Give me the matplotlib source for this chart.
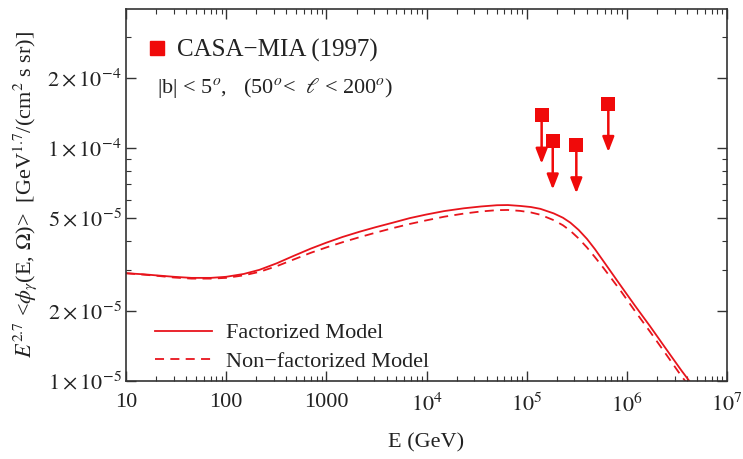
import numpy as np
import matplotlib
matplotlib.use('Agg')
import matplotlib.pyplot as plt
from matplotlib.ticker import LogLocator, FixedLocator, FixedFormatter, NullFormatter
from matplotlib.lines import Line2D

plt.rcParams['font.family'] = ['Liberation Serif', 'DejaVu Serif']
plt.rcParams['mathtext.fontset'] = 'stix'

red = "#e8141c"     # model curves
sq_red = "#f00a0a"  # CASA-MIA points

# gamma-ray flux, E^2.7 * phi  [1e-5 GeV^1.7 / (cm^2 s sr)]
energy = [10, 15, 20, 30, 45, 70, 100, 150, 215, 320, 462, 700, 995, 1450, 2140,
          3100, 4610, 6800, 9930, 1.5e4, 2.36e4, 3.5e4, 5.05e4, 6.5e4, 8.63e4,
          1.1e5, 1.37e5, 1.86e5, 2.3e5, 2.73e5, 3.3e5, 4e5, 4.8e5, 5.86e5, 8.6e5,
          1.2e6, 1.7e6, 2.5e6, 3.5e6, 4.2e6, 5e6]
flux_fact = [2.90, 2.87, 2.84, 2.80, 2.77, 2.77, 2.80, 2.88, 3.00, 3.20, 3.43, 3.70,
             3.92, 4.15, 4.37, 4.57, 4.78, 5.00, 5.18, 5.36, 5.51, 5.61, 5.68, 5.69,
             5.64, 5.58, 5.48, 5.24, 5.02, 4.78, 4.45, 4.07, 3.68, 3.26, 2.58,
             2.11, 1.72, 1.36, 1.11, 1.00, 0.90]
flux_nonfact = [2.90, 2.86, 2.83, 2.78, 2.75, 2.75, 2.77, 2.84, 2.94, 3.11, 3.31, 3.55,
                3.74, 3.94, 4.14, 4.33, 4.53, 4.72, 4.89, 5.07, 5.23, 5.34, 5.41, 5.42,
                5.37, 5.29, 5.17, 4.90, 4.66, 4.41, 4.09, 3.74, 3.40, 3.05, 2.45,
                2.00, 1.63, 1.29, 1.05, 0.95, 0.855]

# CASA-MIA 1997 upper limits
casa_E = [1.41e5, 1.82e5, 3.13e5, 6.53e5]
casa_F = [1.38e-4, 1.07e-4, 1.03e-4, 1.55e-4]

xtick_vals = [10, 100, 1000, 1e4, 1e5, 1e6, 1e7]
xtick_labels = ["10", "100", "1000", r"$10^4$", r"$10^5$", r"$10^6$", r"$10^7$"]
ytick_vals = [1e-5, 2e-5, 5e-5, 1e-4, 2e-4]
ytick_labels = [r"$1\times10^{-5}$", r"$2\times10^{-5}$", r"$5\times10^{-5}$",
                r"$1\times10^{-4}$", r"$2\times10^{-4}$"]

fig = plt.figure(figsize=(7.43, 4.59), dpi=100)
ax = fig.add_axes([0.1696, 0.170, 0.8089, 0.8104])

E = np.array(energy)
ax.plot(E, np.array(flux_fact) * 1e-5, c=red, lw=1.3, label="Factorized Model")
ax.plot(E, np.array(flux_nonfact) * 1e-5, c=red, lw=1.3, ls=(0, (5, 3.5)),
        label="Non\u2212factorized Model")

# upper limits: square + downward arrow
for e, f in zip(casa_E, casa_F):
    ax.annotate("", xy=(e, f * 0.62), xytext=(e, f),
                arrowprops=dict(arrowstyle="-|>,head_length=0.9,head_width=0.35",
                                color=sq_red, lw=1.8, shrinkA=0, shrinkB=0))
ax.scatter(casa_E, casa_F, s=95, marker="s", c=sq_red, lw=0, zorder=5)

ax.set_xscale("log")
ax.set_yscale("log")
ax.set_xlim(10, 1e7)
ax.set_ylim(1e-5, 3.95e-4)

ax.xaxis.set_major_locator(FixedLocator(xtick_vals))
ax.xaxis.set_major_formatter(FixedFormatter(xtick_labels))
ax.xaxis.set_minor_locator(LogLocator(base=10, subs=np.arange(2, 10), numticks=20))
ax.xaxis.set_minor_formatter(NullFormatter())
ax.yaxis.set_major_locator(FixedLocator(ytick_vals))
ax.yaxis.set_major_formatter(FixedFormatter(ytick_labels))
ax.yaxis.set_minor_locator(LogLocator(base=10, subs=np.arange(1, 10), numticks=20))
ax.yaxis.set_minor_formatter(NullFormatter())

ax.tick_params(which="both", direction="in", top=True, right=True, colors="#333333",
               labelcolor="#222222", labelsize=16)
ax.tick_params(which="major", length=7, width=1.0)
ax.tick_params(which="minor", length=3.5, width=0.8)
ax.tick_params(axis="x", which="major", pad=9)
ax.tick_params(axis="y", which="major", pad=3)
for sp in ax.spines.values():
    sp.set_color("#333333")
    sp.set_linewidth(1.2)

ax.set_xlabel("E (GeV)", fontsize=16, color="#222222", labelpad=12)
ax.set_ylabel(r"$E^{2.7}$ <$\phi_\gamma$(E, $\Omega$)>  [GeV$^{1.7}$/(cm$^2$ s sr)]",
              fontsize=16, color="#222222", labelpad=6)

leg1 = ax.legend(loc="lower left", bbox_to_anchor=(0.048, 0.025), frameon=False,
                 fontsize=16, handlelength=2.57, handletextpad=0.63, labelspacing=0.35,
                 borderpad=0, borderaxespad=0, labelcolor="#222222")
ax.add_artist(leg1)

casa_handle = Line2D([], [], ls="none", marker="s", ms=10, mfc=sq_red, mec=sq_red)
ax.legend([casa_handle], ["CASA\u2212MIA (1997)"], loc="upper left",
          bbox_to_anchor=(0.035, 0.92), frameon=False, fontsize=18,
          handlelength=0.8, handletextpad=0.4, borderpad=0, borderaxespad=0,
          labelcolor="#222222")

ax.text(0.052, 0.788, r"|b| < 5$^o$,   (50$^o$<  $\ell$ < 200$^o$)",
        transform=ax.transAxes, fontsize=16, color="#222222", va="center")

fig.savefig("out.png", dpi=100)
